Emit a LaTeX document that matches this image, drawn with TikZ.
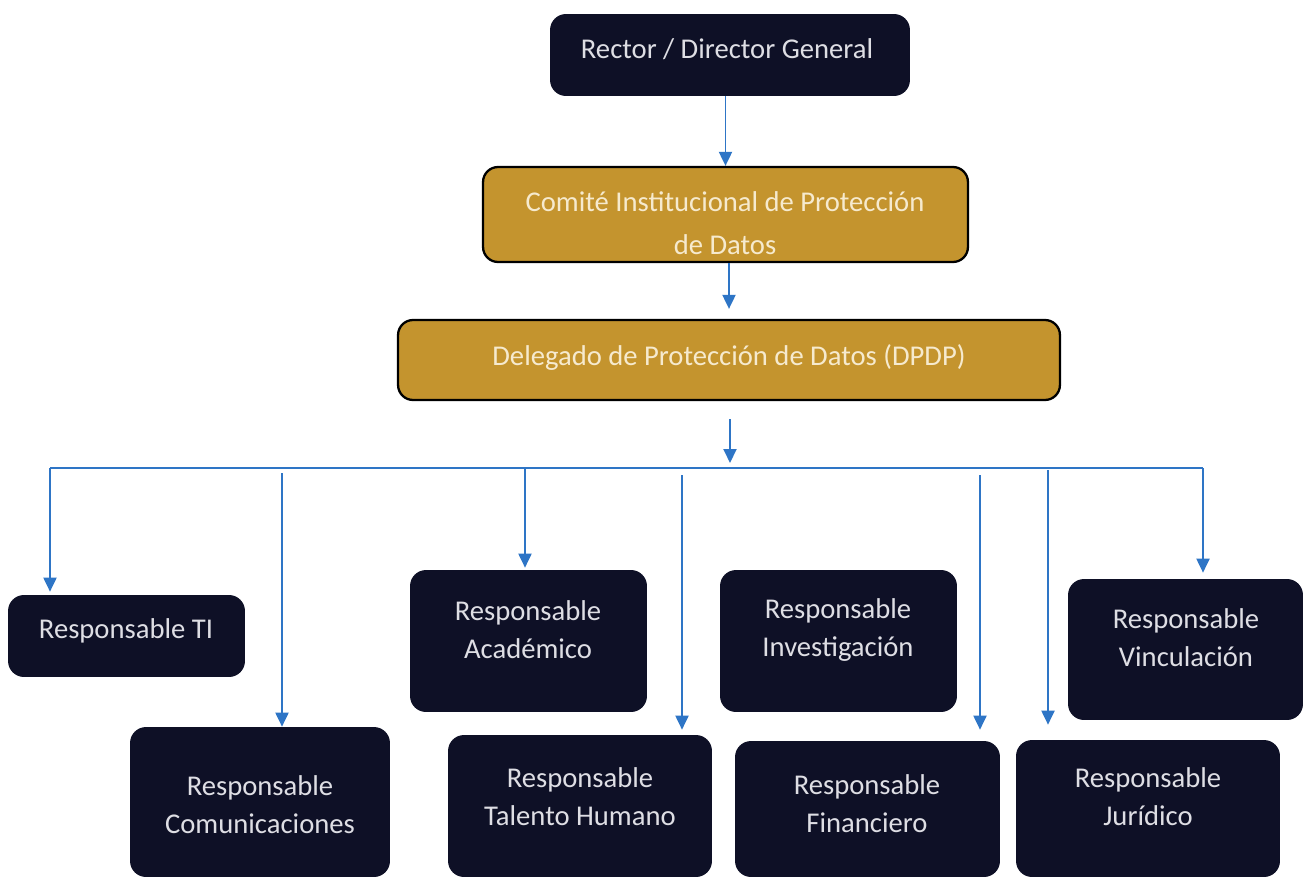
\documentclass[tikz,border=0pt]{standalone}
\usepackage{fontspec}
\setmainfont{Carlito}
\usetikzlibrary{arrows.meta}

\definecolor{navy}{RGB}{14,16,38}
\definecolor{gold}{RGB}{196,148,46}
\definecolor{linkblue}{RGB}{46,117,198}
\definecolor{paper}{RGB}{222,222,228}
\definecolor{cream}{RGB}{246,234,206}

\tikzset{
  darkbox/.style={fill=navy, rounded corners=0.32cm, inner sep=0pt},
  goldbox/.style={fill=gold, draw=black, line width=1.3pt, rounded corners=0.3cm, inner sep=0pt},
  lbl/.style={text=paper, align=center, inner sep=0pt, font=\fontsize{16.3}{21.6}\selectfont},
  goldlbl/.style={lbl, text=cream},
  link/.style={draw=linkblue, line width=1.1pt, -{Triangle[width=0.26cm,length=0.28cm]}},
  bus/.style={draw=linkblue, line width=1.1pt},
}

\begin{document}
\begin{tikzpicture}[x=0.02cm, y=-0.02cm]
    \useasboundingbox (0,0) rectangle (1305,879);
    \fill[white] (0,0) rectangle (1305,879);

    % Direccion
    \node[darkbox, minimum width=7.2cm, minimum height=1.64cm] (rector) at (730,55) {};
    \node[lbl] (rector-t) at (727,49) {Rector / Director General};

    % Comite (texto cortado por el borde)
    \node[goldbox, minimum width=9.7cm, minimum height=1.9cm] (comite) at (725.5,214.5) {};
    \begin{scope}
        \clip[rounded corners=0.28cm] ([shift={(1.5pt,1.5pt)}]comite.south west) rectangle ([shift={(-1.5pt,-1.5pt)}]comite.north east);
        \node[goldlbl, font=\fontsize{16.3}{24.5}\selectfont] (comite-t) at (725,223) {Comité Institucional de Protección\\de Datos};
    \end{scope}

    % Delegado
    \node[goldbox, minimum width=13.24cm, minimum height=1.6cm] (delegado) at (729,360) {};
    \node[goldlbl] (delegado-t) at (729,357) {Delegado de Protección de Datos (DPDP)};

    % Responsables, fila superior
    \node[darkbox, minimum width=4.74cm, minimum height=1.64cm] (ti) at (126.5,636) {};
    \node[lbl] (ti-t) at (126,631) {Responsable TI};
    \node[darkbox, minimum width=4.74cm, minimum height=2.84cm] (acad) at (528.5,641) {};
    \node[lbl] (acad-t) at (528,630) {Responsable\\Académico};
    \node[darkbox, minimum width=4.74cm, minimum height=2.84cm] (inv) at (838.5,641) {};
    \node[lbl] (inv-t) at (838,630) {Responsable\\Investigación};
    \node[darkbox, minimum width=4.7cm, minimum height=2.82cm] (vinc) at (1185.5,649.5) {};
    \node[lbl] (vinc-t) at (1186,638) {Responsable\\Vinculación};

    % Responsables, fila inferior
    \node[darkbox, minimum width=5.2cm, minimum height=3cm] (comu) at (260,802) {};
    \node[lbl] (comu-t) at (260,805) {Responsable\\Comunicaciones};
    \node[darkbox, minimum width=5.28cm, minimum height=2.84cm] (tal) at (580,806) {};
    \node[lbl] (tal-t) at (580,797) {Responsable\\Talento Humano};
    \node[darkbox, minimum width=5.3cm, minimum height=2.72cm] (fin) at (867.5,809) {};
    \node[lbl] (fin-t) at (867,804) {Responsable\\Financiero};
    \node[darkbox, minimum width=5.28cm, minimum height=2.74cm] (jur) at (1148,808.5) {};
    \node[lbl] (jur-t) at (1148,797) {Responsable\\Jurídico};

    % Flechas principales
    \draw[link] (rector.south -| comite.north) -- (comite.north);
    \draw[link, shorten >=0.2cm] (comite.south -| delegado.north) -- (delegado.north);
    \coordinate (hub) at (730,468);
    \draw[link, shorten <=0.36cm, shorten >=0.1cm] (delegado.south -| hub) -- (hub);

    % Barra de reparto
    \coordinate (busL) at (50,468);
    \coordinate (busR) at (1203,468);
    \draw[bus] (busL) -- (busR);
    \coordinate (bA) at (525,468);
    \draw[link, shorten >=0.06cm] (busL) -- (busL |- ti.north);
    \draw[link, shorten >=0.04cm] (bA) -- (bA |- acad.north);
    \draw[link, shorten >=0.12cm] (busR) -- (busR |- vinc.north);

    % Ramas sueltas
    \coordinate (fC) at (282,473);
    \coordinate (fT) at (682,475);
    \coordinate (fF) at (980,475);
    \coordinate (fJ) at (1048,470);
    \draw[link] (fC) -- (fC |- comu.north);
    \draw[link, shorten >=0.1cm] (fT) -- (fT |- tal.north);
    \draw[link, shorten >=0.22cm] (fF) -- (fF |- fin.north);
    \draw[link, shorten >=0.3cm] (fJ) -- (fJ |- jur.north);
\end{tikzpicture}
\end{document}
